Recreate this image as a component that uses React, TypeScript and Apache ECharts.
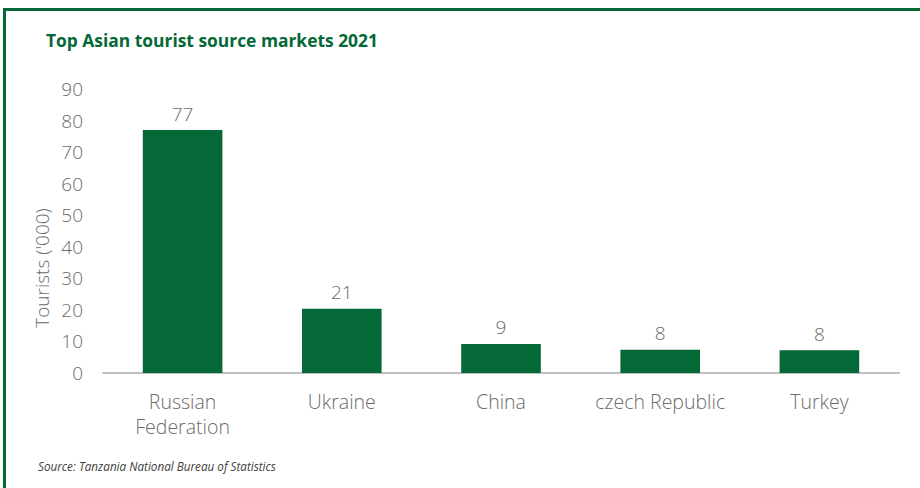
import React, { useEffect, useRef } from "react";
import * as echarts from "echarts";

const categories = ["Russian\nFederation", "Ukraine", "China", "czech Republic", "Turkey"];
const values = [77, 20.4, 9.2, 7.4, 7.2];
const valueLabels = ["77", "21", "9", "8", "8"];
const yTicks = [0, 10, 20, 30, 40, 50, 60, 70, 80, 90];

const GREEN = "#056837";
const GREY = "#6b6b6b";

export default function App() {
  const ref = useRef<HTMLDivElement>(null);
  useEffect(() => {
    if (!ref.current) return;
    const chart = echarts.init(ref.current, null, { renderer: "svg" });
    chart.setOption({
      animation: false,
      backgroundColor: "#ffffff",
      textStyle: { fontFamily: "Open Sans" },
      grid: { left: 103, right: 21, top: 89, bottom: 115 },
      xAxis: {
        type: "category",
        data: categories,
        axisLine: { lineStyle: { color: "#bfbfbf", width: 2 } },
        axisTick: { show: false },
        axisLabel: {
          color: GREY,
          fontSize: 19.5,
          fontWeight: 300,
          fontFamily: "Open Sans",
          lineHeight: 25,
          margin: 16,
          interval: 0,
        },
      },
      yAxis: {
        type: "value",
        min: yTicks[0],
        max: yTicks[yTicks.length - 1],
        interval: 10,
        axisLine: { show: false },
        axisTick: { show: false },
        splitLine: { show: false },
        axisLabel: {
          color: GREY,
          fontSize: 19,
          fontWeight: 300,
          fontFamily: "Open Sans",
          margin: 20,
        },
      },
      series: [
        {
          type: "bar",
          data: values,
          barWidth: "50%",
          itemStyle: { color: GREEN },
          label: {
            show: true,
            position: "top",
            distance: 7,
            color: GREY,
            fontSize: 19,
            fontWeight: 300,
            fontFamily: "Open Sans",
            formatter: (p: any) => valueLabels[p.dataIndex],
          },
        },
      ],
      graphic: [
        { type: "rect", shape: { x: 3, y: 8, width: 917, height: 3 }, style: { fill: GREEN } },
        { type: "rect", shape: { x: 3, y: 8, width: 3, height: 480 }, style: { fill: GREEN } },
        {
          type: "text",
          x: 46,
          y: 40,
          style: {
            text: "Top Asian tourist source markets 2021",
            fill: GREEN,
            font: "bold 17.4px 'Open Sans'",
            verticalAlign: "middle",
          },
        },
        {
          type: "text",
          x: 42,
          y: 268,
          rotation: Math.PI / 2,
          style: {
            text: "Tourists ('000)",
            fill: GREY,
            font: "300 19px 'Open Sans'",
            align: "center",
            verticalAlign: "middle",
          },
        },
        {
          type: "text",
          x: 38,
          y: 466,
          style: {
            text: "Source: Tanzania National Bureau of Statistics",
            fill: "#404040",
            font: "italic 11.7px 'Open Sans'",
            verticalAlign: "middle",
          },
        },
      ],
    });
    return () => chart.dispose();
  }, []);
  return (
    <div
      ref={ref}
      style={{ position: "fixed", left: 0, top: 0, width: 920, height: 488 }}
    />
  );
}
